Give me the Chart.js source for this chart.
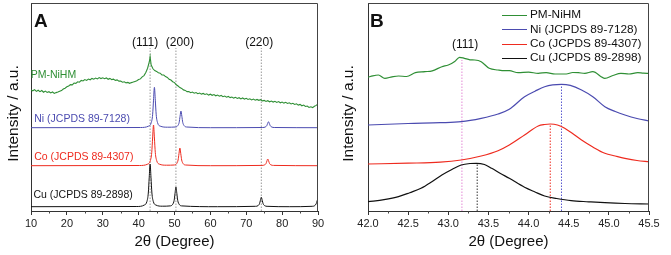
<!DOCTYPE html>
<html>
<head>
<meta charset="utf-8">
<title>XRD patterns of PM-NiHM vs Ni / Co / Cu references</title>
<script src="https://cdn.jsdelivr.net/npm/chart.js@4.4.1/dist/chart.umd.min.js"></script>
<style>
    html, body { margin: 0; padding: 0; background: #fff; }
    .row { display: flex; width: 671px; height: 255px; }
    canvas { display: block; }
</style>
</head>
<body>
<div class="row">
    <canvas id="panelA" width="335" height="255"></canvas>
    <canvas id="panelB" width="336" height="255"></canvas>
</div>
<script>
(function () {
    'use strict';

    var FONT = '"Liberation Sans", Arial, Helvetica, sans-serif';
    var GREEN = '#2f8f35', BLUE = '#4b4bb0', RED = '#ee2b1f', BLACK = '#111111';

    // ---------- Panel A: full scan, 2θ 10–90 (intensity in arbitrary offset units) ----------
    var pmThetaA = [
        10, 10.5, 11, 11.5, 12, 12.5, 13, 13.5, 14, 14.5,
        15, 15.5, 16, 16.5, 17, 17.5, 18, 18.5, 19, 19.5,
        20, 20.5, 21, 21.5, 22, 22.5, 23, 23.5, 24, 24.5,
        25, 25.5, 26, 26.5, 27, 27.5, 28, 28.5, 29, 29.5,
        30, 30.5, 31, 31.5, 32, 32.5, 33, 33.5, 34, 34.5,
        35, 35.5, 36, 36.5, 37, 37.5, 38, 38.5, 39, 39.5,
        40, 40.5, 41, 41.5, 42, 42.5, 43, 43.2, 43.5, 44, 44.5,
        45, 45.5, 46, 46.5, 47, 47.5, 48, 48.5, 49, 49.5,
        50, 50.5, 51, 51.5, 52, 52.5, 53, 53.5, 54, 54.5,
        55, 55.5, 56, 56.5, 57, 57.5, 58, 58.5, 59, 59.5,
        60, 60.5, 61, 61.5, 62, 62.5, 63, 63.5, 64, 64.5,
        65, 65.5, 66, 66.5, 67, 67.5, 68, 68.5, 69, 69.5,
        70, 70.5, 71, 71.5, 72, 72.5, 73, 73.5, 74, 74.5,
        75, 75.5, 76, 76.5, 77, 77.5, 78, 78.5, 79, 79.5,
        80, 80.5, 81, 81.5, 82, 82.5, 83, 83.5, 84, 84.5,
        85, 85.5, 86, 86.5, 87, 87.5, 88, 88.5, 89, 89.5,
        90
    ];
    var pmIntA = [
        121.0, 120.2, 121.4, 119.6, 120.8, 119.4, 120.5, 118.8, 119.9, 118.6,
        119.3, 118.1, 119.0, 117.6, 118.4, 118.9, 119.8, 120.4, 122.0, 122.8,
        124.2, 125.0, 126.4, 126.1, 128.0, 127.6, 129.2, 128.8, 130.6, 130.0,
        131.4, 130.6, 131.9, 131.2, 132.6, 131.8, 132.9, 132.1, 133.4, 132.4,
        133.2, 132.3, 133.1, 131.7, 132.6, 131.4, 131.9, 130.6, 131.1, 129.9,
        130.0, 128.8, 129.2, 128.1, 128.6, 127.7, 128.4, 128.9, 129.6, 130.2,
        131.4, 132.1, 134.2, 135.4, 138.6, 142.8, 149.5, 154.3, 146.0, 142.2, 140.4,
        139.6, 138.2, 137.8, 136.1, 136.0, 134.4, 133.6, 131.7, 131.0, 129.3,
        128.4, 126.2, 125.0, 123.4, 122.6, 121.1, 120.6, 119.4, 119.5, 118.3,
        118.9, 117.8, 118.4, 117.3, 118.0, 116.9, 117.6, 116.6, 117.2, 115.9,
        116.8, 115.7, 116.4, 115.2, 115.9, 114.8, 115.6, 114.3, 114.9, 113.8,
        114.6, 113.4, 114.0, 112.9, 113.7, 112.6, 113.3, 112.1, 113.0, 111.9,
        112.7, 111.6, 112.2, 111.1, 111.9, 110.8, 111.6, 110.7, 111.3, 110.1,
        110.6, 109.5, 110.3, 109.2, 109.9, 108.9, 109.7, 108.6, 109.4, 108.2,
        109.0, 107.9, 108.7, 107.5, 108.2, 107.0, 107.7, 106.5, 107.2, 105.9,
        106.6, 105.2, 105.9, 104.5, 105.0, 103.6, 104.2, 103.4, 104.8, 105.6,
        107.0
    ];

    var niA = [
        [10, 83.3], [40.5, 83.5],
        [42.8, 84.9], [43.5, 88.1], [43.9, 96.2], [44.15, 110.8], [44.4, 123.7], [44.65, 110.8], [44.9, 96.2], [45.3, 88.1], [46.0, 84.9],
        [48.1, 83.8],
        [50.2, 84.0], [50.9, 85.3], [51.3, 88.6], [51.55, 94.7], [51.8, 100.0], [52.05, 94.7], [52.3, 88.6], [52.7, 85.3], [53.4, 84.0],
        [60, 83.3],
        [74.6, 83.5], [75.3, 84.0], [75.7, 85.2], [75.95, 87.4], [76.2, 89.3], [76.45, 87.4], [76.7, 85.2], [77.1, 84.0], [77.8, 83.5],
        [90, 83.3]
    ];
    var coA = [
        [10, 45.3], [40.2, 45.5],
        [42.55, 46.9], [43.25, 50.2], [43.65, 58.3], [43.9, 73.0], [44.15, 86.0], [44.4, 73.0], [44.65, 58.3], [45.05, 50.2], [45.75, 46.9],
        [47.8, 45.8],
        [49.9, 46.0], [50.6, 47.4], [51.0, 51.0], [51.25, 57.3], [51.5, 63.0], [51.75, 57.3], [52.0, 51.0], [52.4, 47.4], [53.1, 46.0],
        [60, 45.3],
        [74.4, 45.6], [75.1, 46.1], [75.5, 47.4], [75.75, 49.9], [76.0, 52.0], [76.25, 49.9], [76.5, 47.4], [76.9, 46.1], [77.6, 45.6],
        [90, 45.3]
    ];
    var cuA = [
        [10, 4.3], [39.5, 4.5],
        [41.6, 6.0], [42.3, 9.4], [42.7, 18.0], [42.95, 33.3], [43.2, 47.0], [43.45, 33.3], [43.7, 18.0], [44.1, 9.4], [44.8, 6.0],
        [46.6, 4.8],
        [48.8, 5.1], [49.5, 6.7], [49.9, 10.6], [50.15, 17.7], [50.4, 24.0], [50.65, 17.7], [50.9, 10.6], [51.3, 6.7], [52.0, 5.1],
        [62, 4.3],
        [72.6, 4.7], [73.3, 5.4], [73.7, 7.3], [73.95, 10.7], [74.2, 13.7], [74.45, 10.7], [74.7, 7.3], [75.1, 5.4], [75.8, 4.7],
        [82, 4.3],
        [88.4, 4.7], [89.1, 5.4], [89.5, 7.3], [89.75, 10.0], [90, 13.0]
    ];

    var hklTextA = ['(111)', '(200)', '(220)'];
    var hklLineA = [43.2, 50.4, 74.2];
    var hklTextXA = [41.8, 51.5, 73.6];
    var hklLineTopA = 163;

    var seriesNames = ['PM-NiHM', 'Ni (JCPDS 89-7128)', 'Co (JCPDS 89-4307)', 'Cu (JCPDS 89-2898)'];
    var seriesColors = [GREEN, BLUE, RED, BLACK];
    // where each name sits in panel A, in data units (2θ, intensity)
    var nameXA = [9.9, 10.9, 10.9, 10.7];
    var nameYA = [136, 91.7, 53.7, 16];

    // ---------- Panel B: zoom on the (111) region, 2θ 42.0–45.5 ----------
    var pmB = [
        [42.0, 133.7], [42.06, 135.2], [42.13, 136.0], [42.21, 132.7], [42.3, 134.2], [42.38, 135.0], [42.48, 134.5],
        [42.59, 138.3], [42.71, 139.3], [42.8, 140.2], [42.92, 144.3], [43.0, 146.0], [43.08, 149.5], [43.14, 153.7],
        [43.2, 152.7], [43.27, 151.2], [43.33, 151.0], [43.41, 149.3], [43.51, 142.7], [43.62, 141.0], [43.7, 140.3],
        [43.76, 140.3], [43.87, 138.3], [44.0, 138.8], [44.12, 137.7], [44.22, 138.4], [44.33, 137.0], [44.47, 137.0],
        [44.55, 138.5], [44.62, 138.3], [44.7, 137.6], [44.8, 139.3], [44.95, 132.7], [45.05, 135.5], [45.15, 137.7],
        [45.25, 137.0], [45.36, 138.3], [45.43, 137.8], [45.5, 137.7]
    ];
    var niB = [
        [42.0, 86.0], [42.5, 87.5], [42.9, 88.3], [43.16, 89.3], [43.41, 92.7], [43.62, 97.0], [43.76, 101.7],
        [43.95, 114.3], [44.08, 119.8], [44.2, 124.3], [44.3, 126.2], [44.41, 126.7], [44.52, 125.6], [44.66, 121.0],
        [44.8, 114.3], [44.95, 104.3], [45.08, 99.5], [45.2, 96.0], [45.35, 92.5], [45.5, 90.0]
    ];
    var coB = [
        [42.0, 47.0], [42.5, 47.8], [42.9, 48.8], [43.16, 51.0], [43.41, 55.0], [43.62, 60.3], [43.76, 66.0],
        [43.95, 76.0], [44.12, 85.0], [44.2, 86.5], [44.27, 87.0], [44.36, 86.0], [44.45, 82.7], [44.66, 71.0],
        [44.8, 64.0], [44.95, 57.7], [45.08, 55.0], [45.2, 52.7], [45.35, 50.5], [45.5, 49.3]
    ];
    var cuB = [
        [42.0, 9.3], [42.2, 11.3], [42.38, 14.3], [42.52, 18.3], [42.66, 22.7], [42.8, 29.5], [42.92, 36.0],
        [43.05, 41.8], [43.16, 46.0], [43.27, 47.5], [43.35, 47.7], [43.45, 46.5], [43.54, 42.7], [43.65, 37.5],
        [43.76, 32.7], [43.95, 23.7], [44.08, 19.0], [44.2, 15.0], [44.35, 12.5], [44.53, 10.3], [44.75, 9.2],
        [44.95, 8.3], [45.2, 7.5], [45.5, 7.0]
    ];
    // peak markers: position and the height they reach
    var peakLineB = [43.17, 43.36, 44.27, 44.41];
    var peakTopB = [151, 47.7, 87, 126.7];
    var peakColorB = ['#e48ad6', '#333333', RED, '#5a5ad0'];

    function toPoints(pairs) {
        return pairs.map(function (p) { return { x: p[0], y: p[1] }; });
    }

    function zip(xs, ys) {
        var out = [];
        for (var i = 0; i < xs.length; i++) out.push({ x: xs[i], y: ys[i] });
        return out;
    }

    function curve(label, points, color, smooth, width) {
        return {
            label: label,
            data: points,
            borderColor: color,
            borderWidth: width || 1,
            pointRadius: 0,
            fill: false,
            cubicInterpolationMode: smooth ? 'monotone' : 'default',
            tension: 0
        };
    }

    function dotted(x, top, color) {
        return {
            label: '',
            data: [{ x: x, y: 0 }, { x: x, y: top }],
            borderColor: color,
            borderWidth: 1,
            borderDash: [1.5, 1.5],
            pointRadius: 0,
            fill: false
        };
    }

    // frame, minor ticks, titles and text notes
    function decorPlugin(opts) {
        return {
            id: 'decor',
            afterDraw: function (chart) {
                var ctx = chart.ctx, area = chart.chartArea;
                var xs = chart.scales.x, ys = chart.scales.y;
                var i;
                ctx.save();

                ctx.strokeStyle = '#444';
                ctx.lineWidth = 1;
                ctx.beginPath();
                ctx.moveTo(area.left, area.top + 0.5);
                ctx.lineTo(area.right - 0.5, area.top + 0.5);
                ctx.lineTo(area.right - 0.5, area.bottom);
                var t = xs.ticks;
                for (i = 0; i < t.length - 1; i++) {
                    var px = Math.round(xs.getPixelForValue((t[i].value + t[i + 1].value) / 2)) + 0.5;
                    ctx.moveTo(px, area.bottom);
                    ctx.lineTo(px, area.bottom + 2.5);
                }
                ctx.stroke();

                ctx.fillStyle = '#111';
                ctx.font = 'bold 19px ' + FONT;
                ctx.textAlign = 'left';
                ctx.textBaseline = 'alphabetic';
                ctx.fillText(opts.letter, area.left + opts.letterDx, 27);

                ctx.save();
                ctx.translate(13.5, 113.5);
                ctx.rotate(-Math.PI / 2);
                ctx.font = '15.5px ' + FONT;
                ctx.textAlign = 'center';
                ctx.textBaseline = 'middle';
                ctx.fillText('Intensity / a.u.', 0, 0);
                ctx.restore();

                ctx.textBaseline = 'middle';
                (opts.notes || []).forEach(function (n) {
                    ctx.font = n.size + 'px ' + FONT;
                    ctx.fillStyle = n.color;
                    ctx.textAlign = n.align;
                    ctx.fillText(n.text, xs.getPixelForValue(n.x), ys.getPixelForValue(n.y));
                });

                if (opts.legend) {
                    ctx.font = '11.8px ' + FONT;
                    ctx.textAlign = 'left';
                    ctx.lineWidth = 1;
                    for (i = 0; i < seriesNames.length; i++) {
                        var y = 15 + i * 14.4;
                        ctx.strokeStyle = seriesColors[i];
                        ctx.beginPath();
                        ctx.moveTo(area.left + 134, Math.round(y) + 0.5);
                        ctx.lineTo(area.left + 159, Math.round(y) + 0.5);
                        ctx.stroke();
                        ctx.fillStyle = '#111';
                        ctx.fillText(seriesNames[i], area.left + 162, y);
                    }
                }
                ctx.restore();
            }
        };
    }

    function scales(xMin, xMax, step, yWidth, fmt) {
        return {
            x: {
                type: 'linear',
                min: xMin,
                max: xMax,
                ticks: {
                    stepSize: step,
                    autoSkip: false,
                    maxRotation: 0,
                    padding: 2,
                    color: '#222',
                    font: { family: FONT, size: 11 },
                    callback: fmt
                },
                grid: { display: true, drawOnChartArea: false, drawTicks: true, tickLength: 4, color: '#333', tickColor: '#333' },
                border: { display: true, color: '#333', width: 1 },
                title: {
                    display: true,
                    text: '2θ (Degree)',
                    color: '#111',
                    font: { family: FONT, size: 15 },
                    padding: { top: 0, bottom: 4 }
                },
                afterFit: function (s) { s.height = 44; }
            },
            y: {
                min: 0,
                max: 208,
                ticks: { display: false },
                grid: { display: false, drawTicks: false },
                border: { display: true, color: '#333', width: 1 },
                afterFit: function (s) { s.width = yWidth; }
            }
        };
    }

    function baseOptions(padRight, sc) {
        return {
            responsive: false,
            animation: false,
            devicePixelRatio: 1,
            layout: { padding: { left: 0, right: padRight, top: 3, bottom: 0 } },
            plugins: { legend: { display: false }, tooltip: { enabled: false } },
            scales: sc
        };
    }

    // ----- Panel A -----
    var dsA = [
        curve(seriesNames[0], zip(pmThetaA, pmIntA), GREEN, false, 1.1),
        curve(seriesNames[1], toPoints(niA), BLUE, true),
        curve(seriesNames[2], toPoints(coA), RED, true),
        curve(seriesNames[3], toPoints(cuA), BLACK, true)
    ];
    var notesA = [];
    for (var i = 0; i < hklLineA.length; i++) {
        dsA.push(dotted(hklLineA[i], hklLineTopA, '#9a9a9a'));
        notesA.push({ text: hklTextA[i], x: hklTextXA[i], y: 168, color: '#111', align: 'center', size: 12 });
    }
    for (i = 0; i < seriesNames.length; i++) {
        notesA.push({ text: seriesNames[i], x: nameXA[i], y: nameYA[i], color: seriesColors[i], align: 'left', size: 10.5 });
    }

    new Chart(document.getElementById('panelA'), {
        type: 'line',
        data: { datasets: dsA },
        options: baseOptions(17, scales(10, 90, 10, 31, function (v) { return String(v); })),
        plugins: [decorPlugin({ letter: 'A', letterDx: 3, notes: notesA })]
    });

    // ----- Panel B -----
    var dsB = [
        curve(seriesNames[0], toPoints(pmB), GREEN, true, 1.2),
        curve(seriesNames[1], toPoints(niB), BLUE, true, 1.2),
        curve(seriesNames[2], toPoints(coB), RED, true, 1.2),
        curve(seriesNames[3], toPoints(cuB), BLACK, true, 1.2)
    ];
    for (i = 0; i < peakLineB.length; i++) {
        dsB.push(dotted(peakLineB[i], peakTopB[i], peakColorB[i]));
    }

    new Chart(document.getElementById('panelB'), {
        type: 'line',
        data: { datasets: dsB },
        options: baseOptions(22, scales(42, 45.5, 0.5, 33, function (v) { return Number(v).toFixed(1); })),
        plugins: [decorPlugin({
            letter: 'B',
            letterDx: 2,
            legend: true,
            notes: [{ text: '(111)', x: 43.21, y: 166, color: '#111', align: 'center', size: 12 }]
        })]
    });
})();
</script>
</body>
</html>
